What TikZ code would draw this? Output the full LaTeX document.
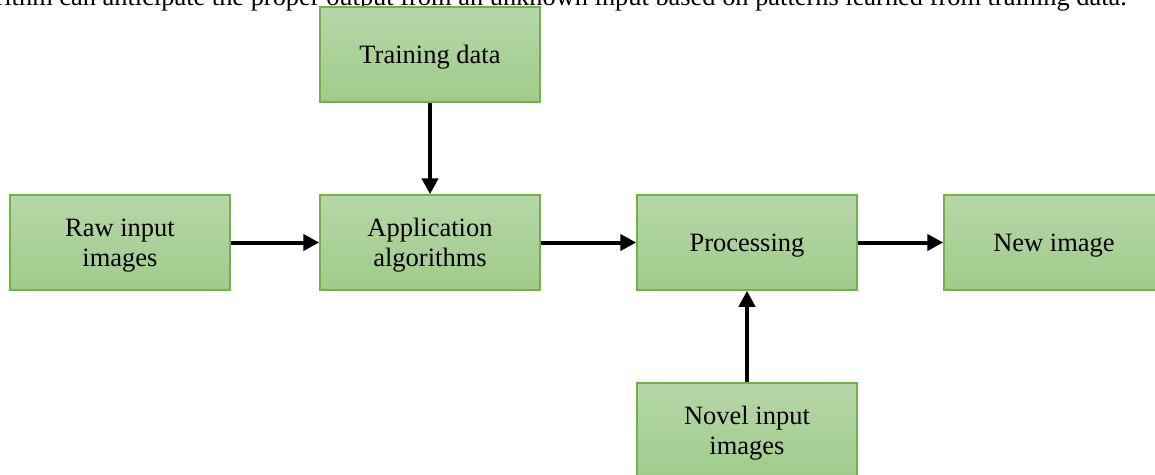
\documentclass[tikz,border=0pt]{standalone}
\usepackage{fontspec}
\setmainfont{Liberation Serif}
\usetikzlibrary{arrows.meta}
\definecolor{boxtop}{HTML}{B6D7A8}
\definecolor{boxbot}{HTML}{A0CB8B}
\definecolor{boxline}{HTML}{74B04C}
\tikzset{
  stage/.style={draw=boxline, line width=1.5pt, top color=boxtop, bottom color=boxbot,
    minimum width=220pt, minimum height=95pt, align=center, inner sep=0pt,
    text depth=0pt, font=\fontsize{26.5}{30}\selectfont},
  flow/.style={line width=4pt, -{Triangle[length=16pt,width=16pt]}},
  note/.style={font=\fontsize{26.4}{30}\selectfont, inner sep=0pt}
}
\begin{document}
\begin{tikzpicture}[x=1pt, y=-1pt]
  \useasboundingbox (0,0) rectangle (1155,474);
  \clip (0,0) rectangle (1155,474);
  % running text of the page above the figure
  \node[note, anchor=base east] (caption) at (1127,5)
    {algorithm can anticipate the proper output from an unknown input based on patterns learned from training data.};
  % stages
  \node[stage] (train) at (430,54.5) {Training data};
  \node[stage] (raw)   at (120,242.5) {Raw input\\images};
  \node[stage] (app)   at (430,242.5) {Application\\algorithms};
  \node[stage] (proc)  at (747,242.5) {Processing};
  \node[stage] (new)   at (1054,242.5) {New image};
  \node[stage] (novel) at (747,430.5) {Novel input\\images};
  % connectors
  \draw[flow] (train) -- (app);
  \draw[flow] (raw) -- (app);
  \draw[flow] (app) -- (proc);
  \draw[flow] (proc) -- (new);
  \draw[flow] (novel) -- (proc);
\end{tikzpicture}
\end{document}
